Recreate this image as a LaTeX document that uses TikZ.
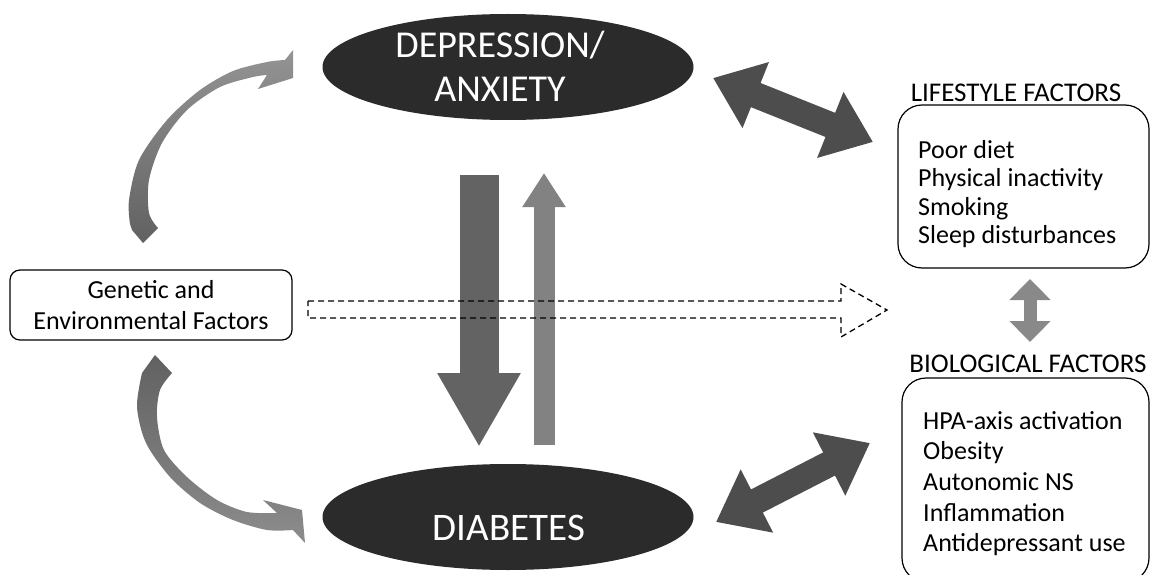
\documentclass[tikz,border=0pt]{standalone}
\usepackage{fontspec}
\setmainfont{Carlito}
\usepackage{tikz}
\usetikzlibrary{shapes, arrows.meta, positioning, shapes.geometric}

\definecolor{ovalgray}{HTML}{2B2B2B}
\definecolor{downgray}{HTML}{636363}
\definecolor{upgray}{HTML}{828282}
\definecolor{diaggray}{HTML}{4D4D4D}
\definecolor{smallgray}{HTML}{898989}

\begin{document}
\begin{tikzpicture}[x=1pt, y=-1pt,
        oval/.style={
            ellipse, fill=ovalgray, draw=none,
            minimum width=371pt, minimum height=106pt, inner sep=0pt
        },
        ovaltext/.style={
            text=white, align=center, inner sep=0pt,
            font=\fontsize{38}{44}\selectfont
        },
        factorbox/.style={
            draw=black, line width=1.2pt, rounded corners=10pt,
            minimum width=282pt, minimum height=70pt, inner sep=0pt,
            align=center, font=\fontsize{26}{31}\selectfont
        },
        listbox/.style={draw=black, line width=1.2pt, rounded corners=24pt},
        listtext/.style={
            anchor=north west, align=left, inner sep=0pt
        },
        header/.style={anchor=base, inner sep=0pt, font=\fontsize{27}{30}\selectfont},
        bigarrow/.style={line width=#1, line cap=butt},
        dasharrow/.style={draw=black, line width=1.3pt, dash pattern=on 6pt off 4pt}
    ]
        \useasboundingbox (0,0) rectangle (1151,575);

        % ovals
        \node[oval] (dep) at (508,67) {};
        \node[ovaltext] (deptext) at (500,66) {DEPRESSION/\\ANXIETY};
        \node[oval] (dia) at (508,517) {};
        \node[ovaltext, font=\fontsize{39}{44}\selectfont, anchor=base] (diatext) at (509,540) {DIABETES};

        % left box
        \node[factorbox] (genenv) at (151,305) {Genetic and\\Environmental Factors};

        % right boxes
        \node[header] (lifehead) at (1016,102) {LIFESTYLE FACTORS};
        \node[listbox, minimum width=251pt, minimum height=163pt] (lifebox) at (1023.5,186.5) {};
        \node[listtext, font=\fontsize{26}{28.5}\selectfont] (lifelist) at (918,140)
            {Poor diet\\Physical inactivity\\Smoking\\Sleep disturbances};

        \node[header] (biohead) at (1028,372) {BIOLOGICAL FACTORS};
        \node[listbox, minimum width=247pt, minimum height=204pt] (biobox) at (1025.5,480) {};
        \node[listtext, font=\fontsize{26}{30.7}\selectfont] (biolist) at (923,411)
            {HPA-axis activation\\Obesity\\Autonomic NS\\Inflammation\\Antidepressant use};

        % end points of the block arrows
        \coordinate (downA) at (479,175);
        \coordinate (downB) at (479,447);
        \coordinate (upA) at (544,445);
        \coordinate (upB) at (544,173);
        \coordinate (topL) at (713,78);
        \coordinate (topR) at (873,142);
        \coordinate (botL) at (716,522);
        \coordinate (botR) at (870,443);
        \coordinate (midT) at (1030,279);
        \coordinate (midB) at (1030,342);

        \draw[bigarrow=39pt, draw=downgray, -{Triangle[length=74pt, width=78pt]}] (downA) -- (downB);
        \draw[bigarrow=21pt, draw=upgray, -{Triangle[length=34pt, width=41pt]}] (upA) -- (upB);
        \draw[bigarrow=26pt, draw=diaggray,
            {Triangle[length=46pt, width=68pt]}-{Triangle[length=46pt, width=68pt]}] (topL) -- (topR);
        \draw[bigarrow=26pt, draw=diaggray,
            {Triangle[length=46pt, width=68pt]}-{Triangle[length=46pt, width=68pt]}] (botL) -- (botR);
        \draw[bigarrow=13pt, draw=smallgray,
            {Triangle[length=21pt, width=40pt]}-{Triangle[length=21pt, width=40pt]}] (midT) -- (midB);

        % curved arrows from the left box
        \shade[top color=black!42, bottom color=black!62]
            (143,243) -- (132,230)
            -- plot[smooth] coordinates {(130,224) (129,200) (139,160) (167,120) (200,90) (233,71) (267,62) (285,60)}
            -- (293,50) -- (293,78) -- (258,89)
            -- plot[smooth] coordinates {(267,75) (253,77) (220,87) (187,110) (162,143) (149,180) (149,213) (158,228)}
            -- cycle;
        \shade[top color=black!62, bottom color=black!45]
            (155,355)
            -- plot[smooth] coordinates {(142,373) (137,407) (146,443) (170,477) (200,503) (233,520) (267,530) (293,530)}
            -- (305,543) -- (302,510) -- (263,500)
            -- plot[smooth] coordinates {(277,513) (247,512) (217,500) (187,477) (164,450) (157,417) (160,390) (172,373)}
            -- cycle;

        % dashed hollow arrow
        \draw[dasharrow] (308,301) -- (841,301) -- (841,284) -- (887,310)
            -- (841,337) -- (841,318) -- (308,318) -- cycle;
    \end{tikzpicture}
\end{document}
